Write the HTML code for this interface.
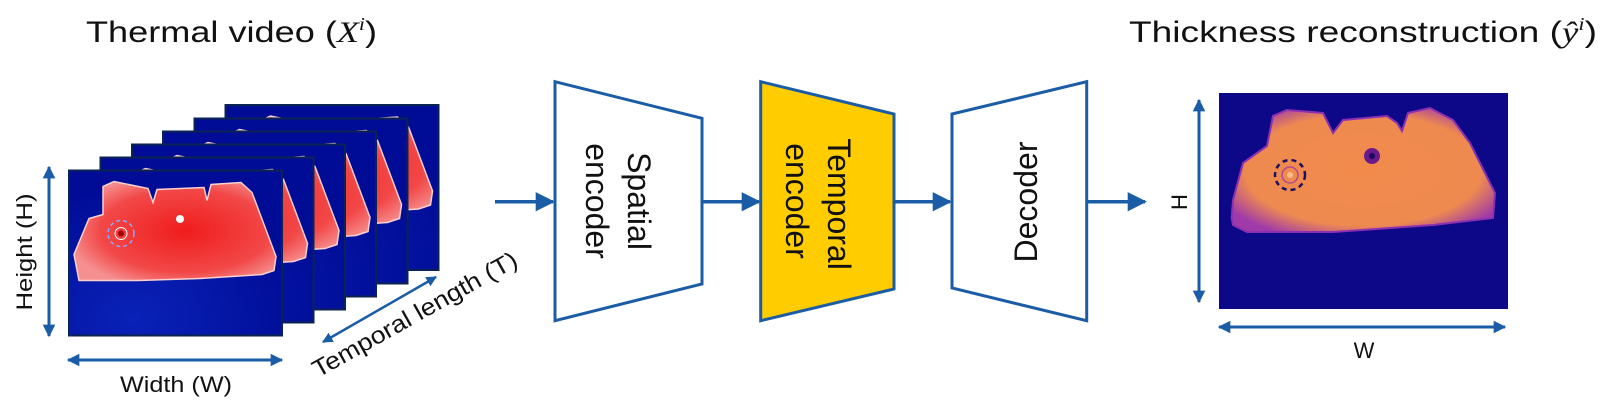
<!DOCTYPE html>
<html><head><meta charset="utf-8"><style>
html,body{margin:0;padding:0;background:#fff;}
svg{display:block;}
text{font-family:"Liberation Sans",sans-serif;fill:#111;}
</style></head><body>
<svg width="1618" height="420" viewBox="0 0 1618 420" xmlns="http://www.w3.org/2000/svg">
<defs>
  <marker id="ah" viewBox="0 0 10 10" refX="9" refY="5" markerWidth="4.2" markerHeight="4.2" orient="auto-start-reverse">
    <path d="M0,0 L10,5 L0,10 z" fill="#1a5da6"/>
  </marker>
  <marker id="ah2" viewBox="0 0 10 10" refX="9" refY="5" markerWidth="5.5" markerHeight="5.5" orient="auto-start-reverse">
    <path d="M0,0 L10,5 L0,10 z" fill="#1a5da6"/>
  </marker>
  <radialGradient id="redg" cx="0.55" cy="0.5" r="0.6">
    <stop offset="0" stop-color="#f01c1c"/>
    <stop offset="0.7" stop-color="#f24848"/>
    <stop offset="1" stop-color="#f69090"/>
  </radialGradient>
  <radialGradient id="bg1" cx="0.3" cy="0.9" r="0.8">
    <stop offset="0" stop-color="#0a22b8"/>
    <stop offset="1" stop-color="#000c96"/>
  </radialGradient>
  <g id="frame">
    <rect x="0" y="0" width="213" height="165" fill="url(#bg1)" stroke="#0b2350" stroke-width="2"/>
    <path d="M10,110 L5,84 L20,48 L34,44 L34,16 L45,11 L79,18 L84,32 L88,19 L135,17 L138,30 L142,14 L172,12 L183,22 L207,86 L205,100 L193,104 L131,108 L69,110 Z" fill="url(#redg)" stroke="#fbd0d0" stroke-width="1.5"/>
  </g>
  <radialGradient id="org" cx="0.5" cy="0.5" r="0.6">
    <stop offset="0" stop-color="#f28a4c"/>
    <stop offset="0.75" stop-color="#ee8a50"/>
    <stop offset="1" stop-color="#a03aa8"/>
  </radialGradient>
</defs>

<text x="86" y="42" font-size="30" textLength="291" lengthAdjust="spacingAndGlyphs">Thermal video (<tspan font-family="Liberation Serif,serif" font-style="italic">X</tspan><tspan font-family="Liberation Serif,serif" font-style="italic" font-size="18" dy="-12">i</tspan><tspan dy="12">)</tspan></text>
<text x="1129" y="42" font-size="30" textLength="468" lengthAdjust="spacingAndGlyphs">Thickness reconstruction (<tspan font-family="Liberation Serif,serif" font-style="italic">ŷ</tspan><tspan font-family="Liberation Serif,serif" font-style="italic" font-size="18" dy="-12">i</tspan><tspan dy="12">)</tspan></text>

<use href="#frame" x="225.5" y="105"/>
<use href="#frame" x="194.5" y="118.5"/>
<use href="#frame" x="163" y="131.5"/>
<use href="#frame" x="132" y="144.5"/>
<use href="#frame" x="100.5" y="157.5"/>
<use href="#frame" x="69" y="170.5"/>
<circle cx="121" cy="233.5" r="13" fill="none" stroke="#8aa8ff" stroke-width="1.5" stroke-dasharray="4 3"/>
<circle cx="121" cy="233.5" r="6" fill="none" stroke="#fff" stroke-width="1"/>
<circle cx="121" cy="233.5" r="3" fill="#a00000"/>
<circle cx="180" cy="219" r="4" fill="#fff"/>

<line x1="49" y1="167" x2="49" y2="336" stroke="#1a5da6" stroke-width="3" marker-start="url(#ah)" marker-end="url(#ah)"/>
<text transform="translate(32,252) rotate(-90)" font-size="22" text-anchor="middle" textLength="117" lengthAdjust="spacingAndGlyphs">Height (H)</text>
<line x1="68" y1="360" x2="282" y2="360" stroke="#1a5da6" stroke-width="3" marker-start="url(#ah)" marker-end="url(#ah)"/>
<text x="176" y="392" font-size="22" text-anchor="middle" textLength="112" lengthAdjust="spacingAndGlyphs">Width (W)</text>
<line x1="323" y1="342" x2="436" y2="277" stroke="#1a5da6" stroke-width="2.5" marker-start="url(#ah)" marker-end="url(#ah)"/>
<text transform="translate(318,378) rotate(-29.3)" font-size="24" textLength="231" lengthAdjust="spacingAndGlyphs">Temporal length (T)</text>

<g stroke="#1a5da6" stroke-width="3.5" fill="none">
  <line x1="495" y1="201.7" x2="553" y2="201.7" marker-end="url(#ah2)"/>
  <line x1="702" y1="201.7" x2="759" y2="201.7" marker-end="url(#ah2)"/>
  <line x1="894" y1="201.7" x2="950" y2="201.7" marker-end="url(#ah2)"/>
  <line x1="1087" y1="201.7" x2="1145" y2="201.7" marker-end="url(#ah2)"/>
</g>
<polygon points="555,81.7 702,118.3 702,284 555,320.7" fill="#fff" stroke="#1a5da6" stroke-width="3"/>
<polygon points="760.7,81.7 894,114 894,289 760.7,320.7" fill="#ffcc00" stroke="#1a5da6" stroke-width="3"/>
<polygon points="952,114 1086.7,81.7 1086.7,320.7 952,288" fill="#fff" stroke="#1a5da6" stroke-width="3"/>

<text transform="translate(628,201) rotate(90)" font-size="32" text-anchor="middle">Spatial</text>
<text transform="translate(586,201) rotate(90)" font-size="32" text-anchor="middle">encoder</text>
<text transform="translate(828,204) rotate(90)" font-size="32" text-anchor="middle">Temporal</text>
<text transform="translate(786,201) rotate(90)" font-size="32" text-anchor="middle">encoder</text>
<text transform="translate(1037,202) rotate(-90)" font-size="32" text-anchor="middle">Decoder</text>

<rect x="1219" y="93" width="289" height="216" fill="#0d0887"/>
<g transform="translate(1219,93)">
  <path d="M12.7,125 L14,107 L24,70 L38,60 L48,53 L54,23 L68,17 L104,20 L114,40 L124,27 L168,23 L178,30 L183,38 L189,20 L211,15 L234,27 L251,50 L276,100 L274,125 L214,132 L114,139 L28,139 L14,132 Z" fill="url(#org)" stroke="#8a30b0" stroke-width="2"/>
  <circle cx="71" cy="82" r="15" fill="none" stroke="#1a1060" stroke-width="2.5" stroke-dasharray="5 4"/>
  <circle cx="71" cy="82" r="8" fill="none" stroke="#b04a90" stroke-width="1.5"/>
  <circle cx="71" cy="82" r="3" fill="#f8c080"/>
  <circle cx="153" cy="63" r="8" fill="#6a1a8a"/>
  <circle cx="153" cy="63" r="3" fill="#1a0860"/>
</g>
<line x1="1199" y1="100" x2="1199" y2="302" stroke="#1a5da6" stroke-width="3" marker-start="url(#ah)" marker-end="url(#ah)"/>
<text transform="translate(1187,202) rotate(-90)" font-size="22" text-anchor="middle">H</text>
<line x1="1219" y1="327" x2="1505" y2="327" stroke="#1a5da6" stroke-width="3" marker-start="url(#ah)" marker-end="url(#ah)"/>
<text x="1364" y="358" font-size="22" text-anchor="middle">W</text>
</svg>
</body></html>
